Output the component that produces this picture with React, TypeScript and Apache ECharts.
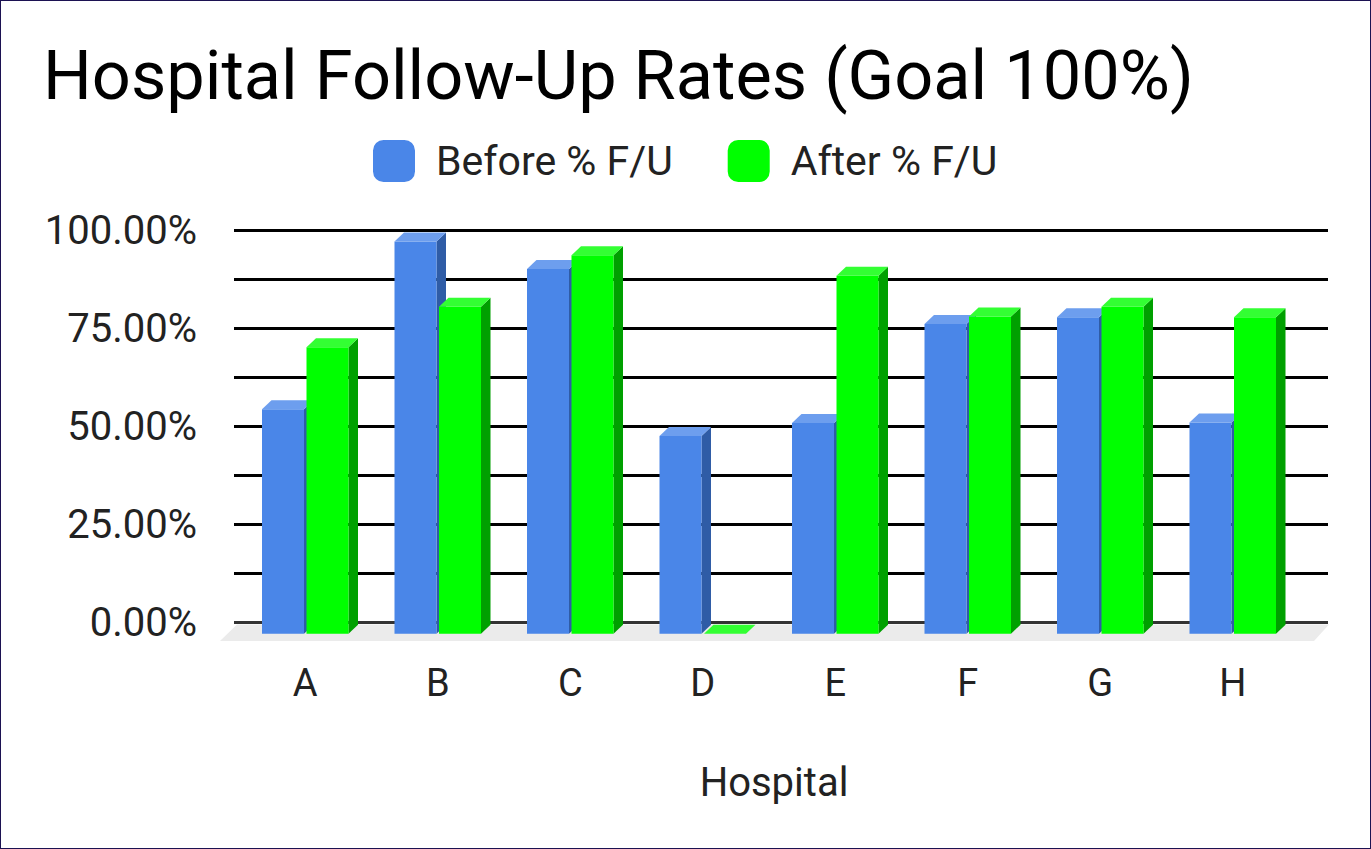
import React, { useEffect, useRef } from "react";
import * as echarts from "echarts";

const hospitals = ["A", "B", "C", "D", "E", "F", "G", "H"];
const beforeFU = [57.2, 99.9, 92.9, 50.4, 53.7, 78.9, 80.6, 53.8];
const afterFU = [73.0, 83.3, 96.4, 0, 91.2, 80.8, 83.3, 80.6];
const seriesNames = ["Before % F/U", "After % F/U"];
const yTicks = [0, 25, 50, 75, 100];

const FONT = "Roboto, 'Noto Sans', sans-serif";
const palettes = [
  { front: "#4a86e8", top: "#6d9eee", side: "#2f5ca6" },
  { front: "#00ff00", top: "#33ff33", side: "#00a000" },
];

const BAR_W = 42;
const GAP = 2.5;
const DEPTH_X = 9.5;
const DEPTH_Y = 9;

function makeRender(si: number) {
  return (params: any, api: any) => {
    const cat = api.value(0);
    const val = api.value(1);
    const p = api.coord([cat, val]);
    const b = api.coord([cat, 0]);
    const cx = p[0];
    const left = si === 0 ? cx - GAP / 2 - BAR_W : cx + GAP / 2;
    const right = left + BAR_W;
    const top = p[1];
    const bottom = b[1];
    const pal = palettes[si];
    return {
      type: "group",
      children: [
        {
          type: "polygon",
          shape: {
            points: [
              [right, top],
              [right + DEPTH_X, top - DEPTH_Y],
              [right + DEPTH_X, bottom - DEPTH_Y],
              [right, bottom],
            ],
          },
          style: { fill: pal.side },
        },
        {
          type: "rect",
          shape: { x: left, y: top, width: BAR_W, height: Math.max(0, bottom - top) },
          style: { fill: pal.front },
        },
        {
          type: "polygon",
          shape: {
            points: [
              [left, top],
              [left + DEPTH_X, top - DEPTH_Y],
              [right + DEPTH_X, top - DEPTH_Y],
              [right, top],
            ],
          },
          style: { fill: pal.top },
        },
      ],
    };
  };
}

export default function App() {
  const ref = useRef<HTMLDivElement>(null);
  useEffect(() => {
    if (!ref.current) return;
    const chart = echarts.init(ref.current, undefined, { renderer: "svg" });
    const option: any = {
      animation: false,
      backgroundColor: "#ffffff",
      title: {
        text: "Hospital Follow-Up Rates (Goal 100%)",
        left: 37,
        top: 35,
        textStyle: { fontFamily: FONT, fontSize: 68.5, fontWeight: "normal", color: "#000" },
      },
      legend: {
        left: 367,
        top: 134,
        icon: "roundRect",
        itemWidth: 42,
        itemHeight: 42,
        itemGap: 55,
        textStyle: { fontFamily: FONT, fontSize: 41, color: "#222", padding: [0, 0, 0, 16] },
        data: seriesNames,
      },
      graphic: [
        {
          type: "polygon",
          z: 1,
          silent: true,
          shape: {
            points: [
              [236, 623.5],
              [1328, 623.5],
              [1313, 640],
              [219, 640],
            ],
          },
          style: { fill: "#ebebeb" },
        },
      ],
      grid: [
        { left: 233, right: 42, top: 229, bottom: 225.5, containLabel: false },
        { left: 238, right: 71, top: 240.2, bottom: 214.3, containLabel: false },
      ],
      xAxis: [
        { type: "value", gridIndex: 0, show: false, min: 0, max: 1 },
        {
          type: "category",
          gridIndex: 1,
          data: hospitals,
          axisLine: { show: false },
          axisTick: { show: false },
          axisLabel: { fontFamily: FONT, fontSize: 38, color: "#222", margin: 30 },
          name: "Hospital",
          nameLocation: "middle",
          nameGap: 129,
          nameTextStyle: { fontFamily: FONT, fontSize: 40, color: "#222", padding: [0, 0, 0, 10] },
        },
      ],
      yAxis: [
        {
          type: "value",
          gridIndex: 0,
          min: 0,
          max: 100,
          interval: 12.5,
          axisLine: { show: false },
          axisTick: { show: false },
          splitLine: { lineStyle: { color: ["#333", "#000", "#000", "#000", "#000", "#000", "#000", "#000", "#000"], width: 3 } },
          axisLabel: {
            fontFamily: FONT,
            fontSize: 40,
            color: "#222",
            margin: 37,
            formatter: (v: number) => (yTicks.indexOf(v) >= 0 ? v.toFixed(2) + "%" : ""),
          },
        },
        { type: "value", gridIndex: 1, min: 0, max: 100, show: false },
      ],
      series: [beforeFU, afterFU].map((arr, si) => ({
        name: seriesNames[si],
        type: "custom",
        xAxisIndex: 1,
        yAxisIndex: 1,
        z: 3 + si,
        itemStyle: { color: palettes[si].front },
        renderItem: makeRender(si),
        encode: { x: 0, y: 1 },
        data: arr.map((v, i) => [i, v]),
      })),
    };
    chart.setOption(option);
    return () => chart.dispose();
  }, []);
  return (
    <div
      style={{
        position: "fixed",
        left: 0,
        top: 0,
        width: 1371,
        height: 849,
        boxSizing: "border-box",
        border: "1px solid #1c1252",
        background: "#fff",
      }}
    >
      <div ref={ref} style={{ width: 1369, height: 847 }} />
    </div>
  );
}
